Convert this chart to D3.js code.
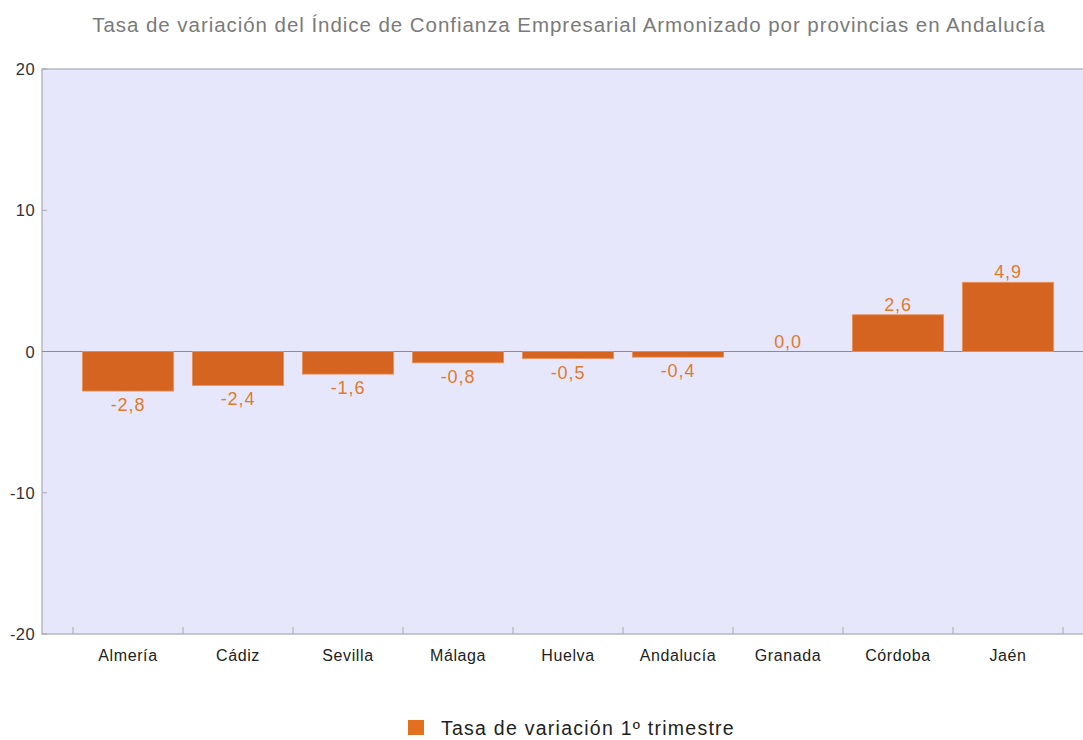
<!DOCTYPE html>
<html>
<head>
<meta charset="utf-8">
<script src="https://cdn.jsdelivr.net/npm/d3@7"></script>
<style>
  body { margin: 0; background: #fff; }
  svg { font-family: Arial, "Liberation Sans", sans-serif; }
</style>
</head>
<body>
<svg id="chart" width="1083" height="740"></svg>
<script>
// data
const provincias = ['Almería', 'Cádiz', 'Sevilla', 'Málaga', 'Huelva', 'Andalucía', 'Granada', 'Córdoba', 'Jaén']
const tasa = [-2.8, -2.4, -1.6, -0.8, -0.5, -0.4, 0.0, 2.6, 4.9]
const yTicks = [-20, -10, 0, 10, 20]
const titulo = 'Tasa de variación del Índice de Confianza Empresarial Armonizado por provincias en Andalucía'
const serie = 'Tasa de variación 1º trimestre'

const svg = d3.select('#chart')
const frame = { left: 42, right: 1083, top: 69, bottom: 634 }
const barColor = '#d4641f'
const labelColor = '#e07a2c'

let x = d3.scaleBand()
  .domain(provincias)
  .range([73, 1063])
  .paddingInner(0.17)
  .paddingOuter(0.085)

let y = d3.scaleLinear()
  .domain([-20, 20])
  .range([frame.bottom, frame.top])

// title
svg.append('text')
  .attr('x', 569).attr('y', 32)
  .attr('text-anchor', 'middle')
  .attr('font-size', 20.5)
  .attr('letter-spacing', 0.95)
  .attr('fill', '#7a7a7a')
  .text(titulo)

// plot background
svg.append('rect')
  .attr('x', frame.left).attr('y', frame.top)
  .attr('width', frame.right - frame.left + 2)
  .attr('height', frame.bottom - frame.top)
  .attr('fill', '#e7e7fb')
  .attr('stroke', '#a8a8b4')
  .attr('stroke-width', 1.2)

// y axis ticks and labels
svg.selectAll('.ytick')
  .data(yTicks)
  .enter().append('line')
    .attr('x1', frame.left).attr('x2', frame.left + 5)
    .attr('y1', d => y(d)).attr('y2', d => y(d))
    .attr('stroke', '#a8a8b4')

svg.selectAll('.ylab')
  .data(yTicks)
  .enter().append('text')
    .attr('x', 35)
    .attr('y', d => y(d) + 6)
    .attr('text-anchor', 'end')
    .attr('font-size', 16.5)
    .attr('letter-spacing', 0.4)
    .attr('fill', '#333')
    .text(d => d)

// zero line
svg.append('line')
  .attr('x1', frame.left).attr('x2', frame.right)
  .attr('y1', y(0)).attr('y2', y(0))
  .attr('stroke', '#8a8a9a')
  .attr('stroke-width', 1)

// category boundary ticks on bottom edge
let bounds = provincias.map(p => x(p) - x.step() * x.paddingInner() / 2)
bounds.push(bounds[bounds.length - 1] + x.step())
svg.selectAll('.xtick')
  .data(bounds)
  .enter().append('line')
    .attr('x1', d => d).attr('x2', d => d)
    .attr('y1', frame.bottom).attr('y2', frame.bottom - 7)
    .attr('stroke', '#a8a8b4')

svg.selectAll('.xlab')
  .data(provincias)
  .enter().append('text')
    .attr('x', d => x(d) + x.bandwidth() / 2)
    .attr('y', 661)
    .attr('text-anchor', 'middle')
    .attr('font-size', 16)
    .attr('letter-spacing', 0.6)
    .attr('fill', '#222')
    .text(d => d)

// bars
svg.selectAll('.bar')
  .data(tasa)
  .enter().append('rect')
    .attr('x', (d, i) => x(provincias[i]))
    .attr('width', x.bandwidth())
    .attr('y', d => y(Math.max(0, d)))
    .attr('height', d => Math.abs(y(d) - y(0)))
    .attr('fill', barColor)
    .attr('stroke', d => d === 0 ? 'none' : '#e9925a')
    .attr('stroke-width', 0.8)

// value labels
svg.selectAll('.val')
  .data(tasa)
  .enter().append('text')
    .attr('x', (d, i) => x(provincias[i]) + x.bandwidth() / 2)
    .attr('y', d => d < 0 ? y(d) + 20 : y(d) - 4)
    .attr('text-anchor', 'middle')
    .attr('font-size', 18)
    .attr('letter-spacing', 0.9)
    .attr('fill', labelColor)
    .text(d => d.toFixed(1).replace('.', ','))

// legend
svg.append('rect')
  .attr('x', 408).attr('y', 720)
  .attr('width', 16).attr('height', 15)
  .attr('fill', '#e2701e')
svg.append('text')
  .attr('x', 441).attr('y', 735)
  .attr('font-size', 19.5)
  .attr('letter-spacing', 1.25)
  .attr('fill', '#222')
  .text(serie)
</script>
</body>
</html>
